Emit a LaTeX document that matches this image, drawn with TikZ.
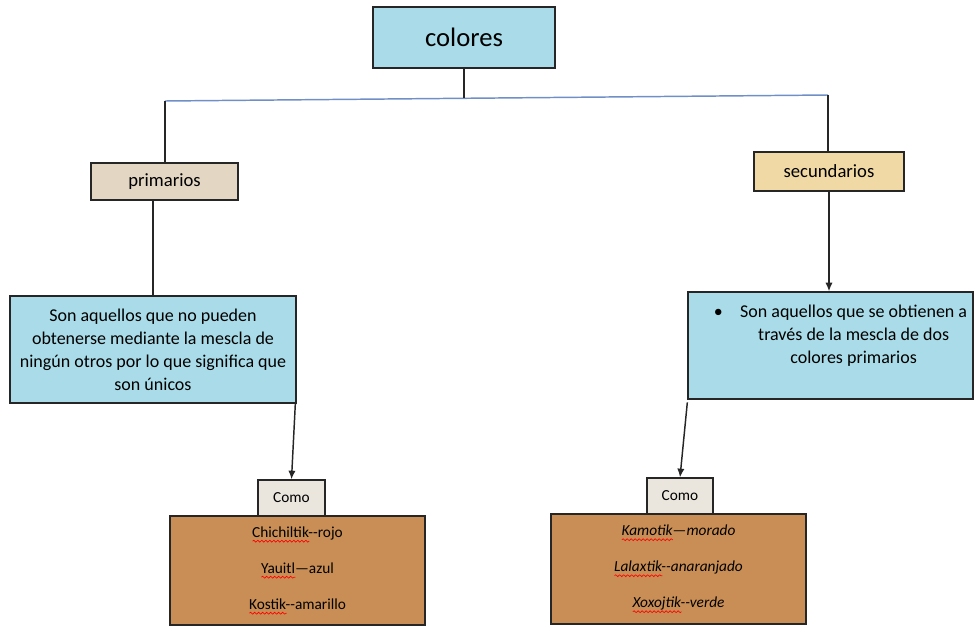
\documentclass[tikz,border=0pt]{standalone}
\usepackage{fontspec}
\setmainfont{Carlito}
\usepackage{tikz}
\usetikzlibrary{arrows.meta, positioning, calc, decorations.pathmorphing}
\definecolor{gota}{HTML}{A9DCE8}
\definecolor{papel}{HTML}{E3D6C2}
\definecolor{papiro}{HTML}{F0D9A4}
\definecolor{madera}{HTML}{C98E55}
\definecolor{lino}{HTML}{EAE6DE}
\definecolor{linea}{HTML}{6F8FC6}
\newlength\corrw
\newcommand\corr[1]{\settowidth\corrw{#1}\leavevmode\rlap{\tikz[baseline=0pt,x=1pt,y=1pt]
	\draw[red, line width=.5pt, decorate, decoration={snake, amplitude=.7pt, segment length=3pt}]
	(0pt,-3pt) -- (\corrw,-3pt);}#1}

\begin{document}
\begin{tikzpicture}[x=0.75pt, y=-0.75pt,
	caja/.style = {draw=black!85, line width=1pt, align=center, inner sep=2pt},
	enlace/.style = {draw=black!85, line width=1.1pt},
	flecha/.style = {enlace, -{Latex[length=6.5pt,width=5.5pt]}}]
	\useasboundingbox (0,0) rectangle (975,628);
	\node[caja, fill=gota, minimum width=136.5pt, minimum height=45.75pt,
		font=\fontsize{20}{24}\selectfont] (col) at (464,37.5) {colores};
	\node[caja, fill=papel, minimum width=110.25pt, minimum height=27.75pt,
		font=\fontsize{14}{17}\selectfont] (prim) at (164.5,181.5) {primarios};
	\node[caja, fill=papiro, minimum width=112.5pt, minimum height=29.25pt,
		font=\fontsize{14}{17}\selectfont] (sec) at (829,171.5) {secundarios};
	\node[caja, fill=gota, minimum width=214.5pt, minimum height=80.25pt,
		font=\fontsize{13.5}{17.25}\selectfont] (azulA) at (153,349.5)
		{Son aquellos que no pueden\\ obtenerse mediante la mescla de\\
		 ningún otros por lo que significa que\\ son únicos};
	\node[caja, fill=gota, minimum width=213.75pt, minimum height=80.25pt,
		font=\fontsize{13.5}{17.25}\selectfont] (azulB) at (830.5,345.5)
		{\hspace{15pt}\begin{tabular}{@{}l@{\hspace{13pt}}c@{}}
			\textbullet & Son aquellos que se obtienen a\\
			& través de la mescla de dos\\
			& colores primarios\\[15pt]
		 \end{tabular}};
	\node[caja, fill=lino, minimum width=50.25pt, minimum height=27pt,
		font=\fontsize{11.5}{14}\selectfont] (comoA) at (291.5,498) {Como};
	\node[caja, fill=lino, minimum width=49.5pt, minimum height=27pt,
		font=\fontsize{11.5}{14}\selectfont] (comoB) at (680,496) {Como};
	\node[caja, fill=madera, minimum width=191.25pt, minimum height=81.75pt,
		font=\fontsize{11.5}{27}\selectfont] (maderaA) at (297.5,570.5)
		{\corr{Chichiltik}-{}-rojo\\ \corr{Yauitl}—azul\\ \corr{Kostik}-{}-amarillo};
	\node[caja, fill=madera, minimum width=191.25pt, minimum height=82.5pt,
		font=\fontsize{11.5}{27}\selectfont\itshape] (maderaB) at (678.5,569)
		{\corr{Kamotik}—morado\\ \corr{Lalaxtik}-{}-anaranjado\\ \corr{Xoxojtik}-{}-verde};
	\coordinate (bl) at (165,101);
	\coordinate (br) at (828,95);
	\draw[linea, line width=1.1pt] (bl) -- (br);
	\draw[enlace] (col.south) -- (col.south |- 0,98);
	\draw[enlace] (bl) -- (bl |- prim.north);
	\draw[enlace] (br) -- (br |- sec.north);
	\draw[enlace] (azulA.north |- prim.south) -- (azulA.north);
	\draw[flecha] (sec.south) -- (sec.south |- azulB.north);
	\draw[flecha] ([xshift=-1pt]azulA.south east) -- (comoA.north);
	\draw[flecha] ([yshift=-2pt]azulB.south west) -- (comoB.north);
\end{tikzpicture}
\end{document}
